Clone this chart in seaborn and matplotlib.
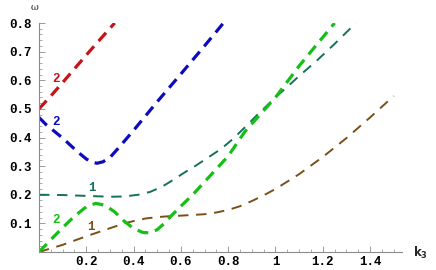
import matplotlib
matplotlib.use("Agg")
import matplotlib.pyplot as plt
import seaborn as sns
from matplotlib.ticker import MultipleLocator, FixedLocator

# ---- data ----
k_red = [0.0, 0.05, 0.10, 0.15, 0.20, 0.25, 0.32]
w_red = [0.50, 0.545, 0.592, 0.640, 0.688, 0.735, 0.80]

k_blue = [0.0, 0.03, 0.06, 0.10, 0.15, 0.175, 0.20, 0.22, 0.245, 0.27, 0.30, 0.34, 0.40, 0.45, 0.50, 0.60, 0.70, 0.78]
w_blue = [0.47, 0.445, 0.425, 0.398, 0.36, 0.342, 0.325, 0.315, 0.31, 0.315, 0.33, 0.367, 0.425, 0.475, 0.525, 0.622, 0.72, 0.80]

k_teal = [0.0, 0.10, 0.20, 0.30, 0.36, 0.42, 0.47, 0.52, 0.56, 0.61, 0.66, 0.70, 0.77, 0.82, 0.87, 0.93,
          1.00, 1.05, 1.10, 1.17, 1.25, 1.34]
w_teal = [0.20, 0.199, 0.196, 0.193, 0.194, 0.20, 0.21, 0.228, 0.248, 0.275, 0.30, 0.322, 0.36, 0.395, 0.435, 0.485,
          0.54, 0.577, 0.615, 0.665, 0.727, 0.80]

k_green = [0.0, 0.05, 0.10, 0.15, 0.20, 0.24, 0.28, 0.32, 0.36, 0.40, 0.44, 0.47, 0.50, 0.53, 0.56, 0.60,
           0.65, 0.70, 0.80, 0.87, 0.94, 1.00, 1.10, 1.20, 1.25]
w_green = [0.0, 0.043, 0.085, 0.125, 0.158, 0.17, 0.163, 0.14, 0.108, 0.082, 0.068, 0.067, 0.078, 0.10, 0.127, 0.16,
           0.20, 0.245, 0.335, 0.42, 0.485, 0.54, 0.65, 0.75, 0.80]

k_brown = [0.0, 0.10, 0.20, 0.30, 0.36, 0.40, 0.45, 0.50, 0.55, 0.60, 0.70, 0.75, 0.80, 0.85, 0.90, 0.95,
           1.00, 1.10, 1.20, 1.30, 1.40, 1.50]
w_brown = [0.0, 0.025, 0.055, 0.083, 0.10, 0.108, 0.117, 0.122, 0.125, 0.127, 0.132, 0.138, 0.147, 0.16, 0.178, 0.198,
           0.22, 0.272, 0.332, 0.398, 0.47, 0.545]

x_ticks = [0.2, 0.4, 0.6, 0.8, 1.0, 1.2, 1.4]
x_ticklabels = ["0.2", "0.4", "0.6", "0.8", "1", "1.2", "1.4"]
y_ticks = [0.1, 0.2, 0.3, 0.4, 0.5, 0.6, 0.7, 0.8]
y_ticklabels = ["0.1", "0.2", "0.3", "0.4", "0.5", "0.6", "0.7", "0.8"]

# curve labels
lab_text = ["2", "2", "1", "2", "1"]
lab_k = [0.072, 0.072, 0.224, 0.072, 0.22]
lab_w = [0.605, 0.455, 0.224, 0.112, 0.087]

# ---- style ----
sns.set_style("white")
plt.rcParams["lines.scale_dashes"] = False

c_red = "#c41418"
c_blue = "#0c0cbc"
c_teal = "#17705a"
c_green = "#14c014"
c_brown = "#7a5018"
lab_col = [c_red, c_blue, c_teal, c_green, c_brown]

fig = plt.figure(figsize=(4.36, 2.70), dpi=100)
ax = fig.add_axes([39 / 436, 1 - 252 / 270, (402 - 39) / 436, (252 - 23) / 270])

thick = 2.3
thin = 1.4
dash_thick = (0, (8.0, 5.0))
dash_thin = (0, (7.5, 5.5))

for k, w, c, lw, ls in [
    (k_brown, w_brown, c_brown, thin, dash_thin),
    (k_teal, w_teal, c_teal, thin, dash_thin),
    (k_green, w_green, c_green, thick, dash_thick),
    (k_blue, w_blue, c_blue, thick, dash_thick),
    (k_red, w_red, c_red, thick, dash_thick),
]:
    sns.lineplot(x=k, y=w, ax=ax, color=c, linewidth=lw, linestyle=ls,
                 sort=False, estimator=None, errorbar=None)

for t, kk, ww, cc in zip(lab_text, lab_k, lab_w, lab_col):
    ax.text(kk, ww, t, color=cc, fontsize=9, fontweight="bold",
            family="Liberation Mono", ha="center", va="center")

ax.set_xlim(0, 1.535)
ax.set_ylim(0, 0.8)

for s in ["top", "right"]:
    ax.spines[s].set_visible(False)
for s in ["left", "bottom"]:
    ax.spines[s].set_color("#8c8c8c")
    ax.spines[s].set_linewidth(0.8)

ax.xaxis.set_major_locator(FixedLocator(x_ticks))
ax.set_xticklabels(x_ticklabels)
ax.yaxis.set_major_locator(FixedLocator(y_ticks))
ax.set_yticklabels(y_ticklabels)
ax.xaxis.set_minor_locator(MultipleLocator(0.05))
ax.yaxis.set_minor_locator(MultipleLocator(0.02))

ax.tick_params(which="major", direction="in", length=4, width=0.6, color="#8c8c8c", pad=5)
ax.tick_params(which="minor", direction="in", length=2, width=0.5, color="#8c8c8c")
ax.tick_params(axis="x", which="both", bottom=True, top=False)
ax.tick_params(axis="y", which="both", left=True, right=False)
ax.tick_params(axis="x", pad=3)
for lab in ax.get_xticklabels() + ax.get_yticklabels():
    lab.set_family("Liberation Mono")
    lab.set_fontweight("bold")
    lab.set_fontsize(9)
    lab.set_color("black")

ax.set_xlabel("")
ax.set_ylabel("")

fig.text(35 / 436, 1 - 7 / 270, "ω", fontsize=7, ha="center", va="center",
         family="DejaVu Serif")
fig.text(420 / 436, 1 - 253 / 270, r"$\mathbf{k_3}$", fontsize=8.5, ha="center", va="center")

fig.savefig("out.png", dpi=100)
